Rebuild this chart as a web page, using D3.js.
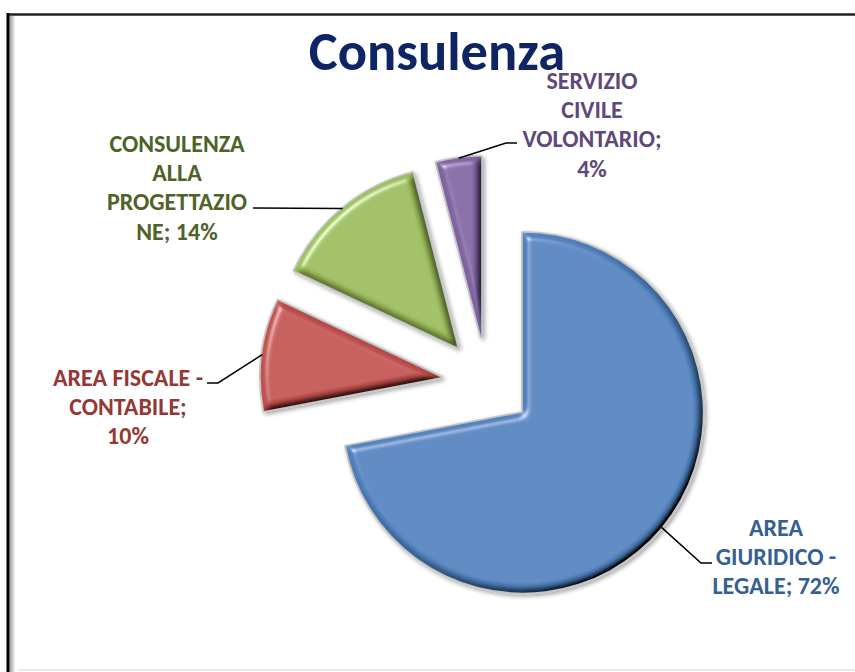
<!DOCTYPE html>
<html>
<head>
<meta charset="utf-8">
<script src="https://cdn.jsdelivr.net/npm/d3@7"></script>
<style>
  html, body { margin: 0; padding: 0; background: #fff; }
  svg { display: block; }
</style>
</head>
<body>
<div id="chart"></div>
<script>
// chart data
var title = "Consulenza";
var categories = ["AREA GIURIDICO - LEGALE", "AREA FISCALE - CONTABILE", "CONSULENZA ALLA PROGETTAZIONE", "SERVIZIO CIVILE VOLONTARIO"];
var values = [72, 10, 14, 4];
// label text as wrapped by the original; the value gets appended to the last line
var labelLines = [
    ["AREA", "GIURIDICO -", "LEGALE; "],
    ["AREA FISCALE -", "CONTABILE;", ""],
    ["CONSULENZA", "ALLA", "PROGETTAZIO", "NE; "],
    ["SERVIZIO", "CIVILE", "VOLONTARIO;", ""]
];

(function(){
    var W = 855, H = 672;
    var fontFamily = "'Liberation Sans Narrow', Carlito, 'Arial Narrow', sans-serif";

    var colors = ["#4f81bd", "#c0504d", "#9bbb59", "#8064a2"];
    var labelColors = ["#376092", "#953735", "#4f6228", "#5f497a"];

    // pie geometry
    var pie = { cx: 487, cy: 383, r: 180, explode: 46.5 };

    // label layout: centre x, first line centre y, leader end, elbow side
    var labelPos = [
        { x: 776, y: 527, end: [712, 563], side: -1 },
        { x: 128, y: 377, end: [207, 383], side: 1 },
        { x: 177, y: 143, end: [253, 208], side: 1 },
        { x: 592, y: 80,  end: [517, 143], side: -1 }
    ];
    var lineH = 29.3;

    var svg = d3.select("#chart").append("svg")
        .attr("width", W)
        .attr("height", H);

    var defs = svg.append("defs");

    // bevel look of the slices
    var bevel = defs.append("filter").attr("id", "bevel")
        .attr("x", "-10%").attr("y", "-10%").attr("width", "120%").attr("height", "120%");
    bevel.append("feGaussianBlur").attr("in", "SourceAlpha").attr("stdDeviation", 3.5).attr("result", "blur");
    bevel.append("feDiffuseLighting").attr("in", "blur").attr("surfaceScale", 6)
        .attr("diffuseConstant", 1.31).attr("lighting-color", "#fff").attr("result", "diff")
        .append("feDistantLight").attr("azimuth", 225).attr("elevation", 50);
    bevel.append("feSpecularLighting").attr("in", "blur").attr("surfaceScale", 6)
        .attr("specularConstant", 0.9).attr("specularExponent", 25).attr("lighting-color", "#fff").attr("result", "spec")
        .append("feDistantLight").attr("azimuth", 225).attr("elevation", 40);
    bevel.append("feComposite").attr("in", "spec").attr("in2", "SourceAlpha").attr("operator", "in").attr("result", "specIn");
    bevel.append("feComposite").attr("in", "SourceGraphic").attr("in2", "diff").attr("operator", "arithmetic")
        .attr("k1", 1).attr("k2", 0).attr("k3", 0).attr("k4", 0).attr("result", "shaded");
    bevel.append("feComposite").attr("in", "shaded").attr("in2", "specIn").attr("operator", "arithmetic")
        .attr("k1", 0).attr("k2", 1).attr("k3", 0.55).attr("k4", 0);

    var shadow = defs.append("filter").attr("id", "shadow")
        .attr("x", "-20%").attr("y", "-20%").attr("width", "140%").attr("height", "140%");
    shadow.append("feDropShadow").attr("dx", 2).attr("dy", 2).attr("stdDeviation", 2)
        .attr("flood-color", "#000").attr("flood-opacity", 0.35);

    var leftShade = defs.append("linearGradient").attr("id", "leftShade");
    leftShade.append("stop").attr("offset", "0%").attr("stop-color", "#999");
    leftShade.append("stop").attr("offset", "100%").attr("stop-color", "#fff");

    // chart frame
    svg.append("rect").attr("x", 9.5).attr("y", 16).attr("width", 6).attr("height", H - 16)
        .attr("fill", "url(#leftShade)");
    svg.append("line").attr("x1", 8).attr("y1", 14.5).attr("x2", W).attr("y2", 14.5)
        .attr("stroke", "#222").attr("stroke-width", 2.5);
    svg.append("line").attr("x1", 8).attr("y1", 13).attr("x2", 8).attr("y2", H)
        .attr("stroke", "#000").attr("stroke-width", 3);
    svg.append("line").attr("x1", 18).attr("y1", 670).attr("x2", W).attr("y2", 670)
        .attr("stroke", "#e2e2e2").attr("stroke-width", 1.5);

    var pieGen = d3.pie().sort(null).value(function(d){ return d; })
        .startAngle(0).endAngle(2 * Math.PI);
    var arcs = pieGen(values);
    var arc = d3.arc().innerRadius(0).outerRadius(pie.r);

    // apex of each exploded slice
    arcs.forEach(function(a){
        var mid = (a.startAngle + a.endAngle) / 2;
        a.mid = mid;
        a.ox = pie.cx + Math.sin(mid) * pie.explode;
        a.oy = pie.cy - Math.cos(mid) * pie.explode;
    });

    var slices = svg.append("g").selectAll("g.slice")
        .data(arcs)
        .enter()
        .append("g")
        .attr("class", "slice")
        .attr("transform", function(a){ return "translate(" + a.ox + "," + a.oy + ")"; });

    slices.append("path")
        .attr("d", arc)
        .attr("fill", "#fff")
        .attr("stroke", "#c4c4c4")
        .attr("stroke-width", 3.5)
        .attr("stroke-linejoin", "round")
        .attr("filter", "url(#shadow)");

    slices.append("path")
        .attr("d", arc)
        .attr("fill", function(a, i){ return colors[i]; })
        .attr("filter", "url(#bevel)");

    // leader lines
    svg.append("g").selectAll("path.leader")
        .data(arcs)
        .enter()
        .append("path")
        .attr("class", "leader")
        .attr("fill", "none")
        .attr("stroke", "#000")
        .attr("stroke-width", 1.5)
        .attr("d", function(a, i){
            var sx = a.ox + Math.sin(a.mid) * pie.r;
            var sy = a.oy - Math.cos(a.mid) * pie.r;
            var p = labelPos[i];
            var ex = p.end[0], ey = p.end[1];
            var kx = ex + p.side * 11;
            if (Math.abs(sy - ey) < 2) kx = ex;
            return "M" + sx + "," + sy + "L" + kx + "," + ey + "L" + ex + "," + ey;
        });

    // data labels
    var labels = svg.append("g").selectAll("text.label")
        .data(arcs)
        .enter()
        .append("text")
        .attr("class", "label")
        .attr("text-anchor", "middle")
        .attr("font-family", fontFamily)
        .attr("font-weight", "bold")
        .attr("font-size", "24px")
        .attr("fill", function(a, i){ return labelColors[i]; });

    labels.each(function(a, i){
        var lines = labelLines[i].slice();
        lines[lines.length - 1] += values[i] + "%";
        var t = d3.select(this);
        lines.forEach(function(s, j){
            t.append("tspan")
                .attr("x", labelPos[i].x)
                .attr("y", labelPos[i].y + j * lineH)
                .attr("dy", "0.36em")
                .text(s);
        });
    });

    // title
    svg.append("text")
        .attr("x", 437)
        .attr("y", 70)
        .attr("text-anchor", "middle")
        .attr("font-family", fontFamily)
        .attr("font-weight", "bold")
        .attr("font-size", "54.5px")
        .attr("fill", "#0f2463")
        .text(title);
})();
</script>
</body>
</html>
